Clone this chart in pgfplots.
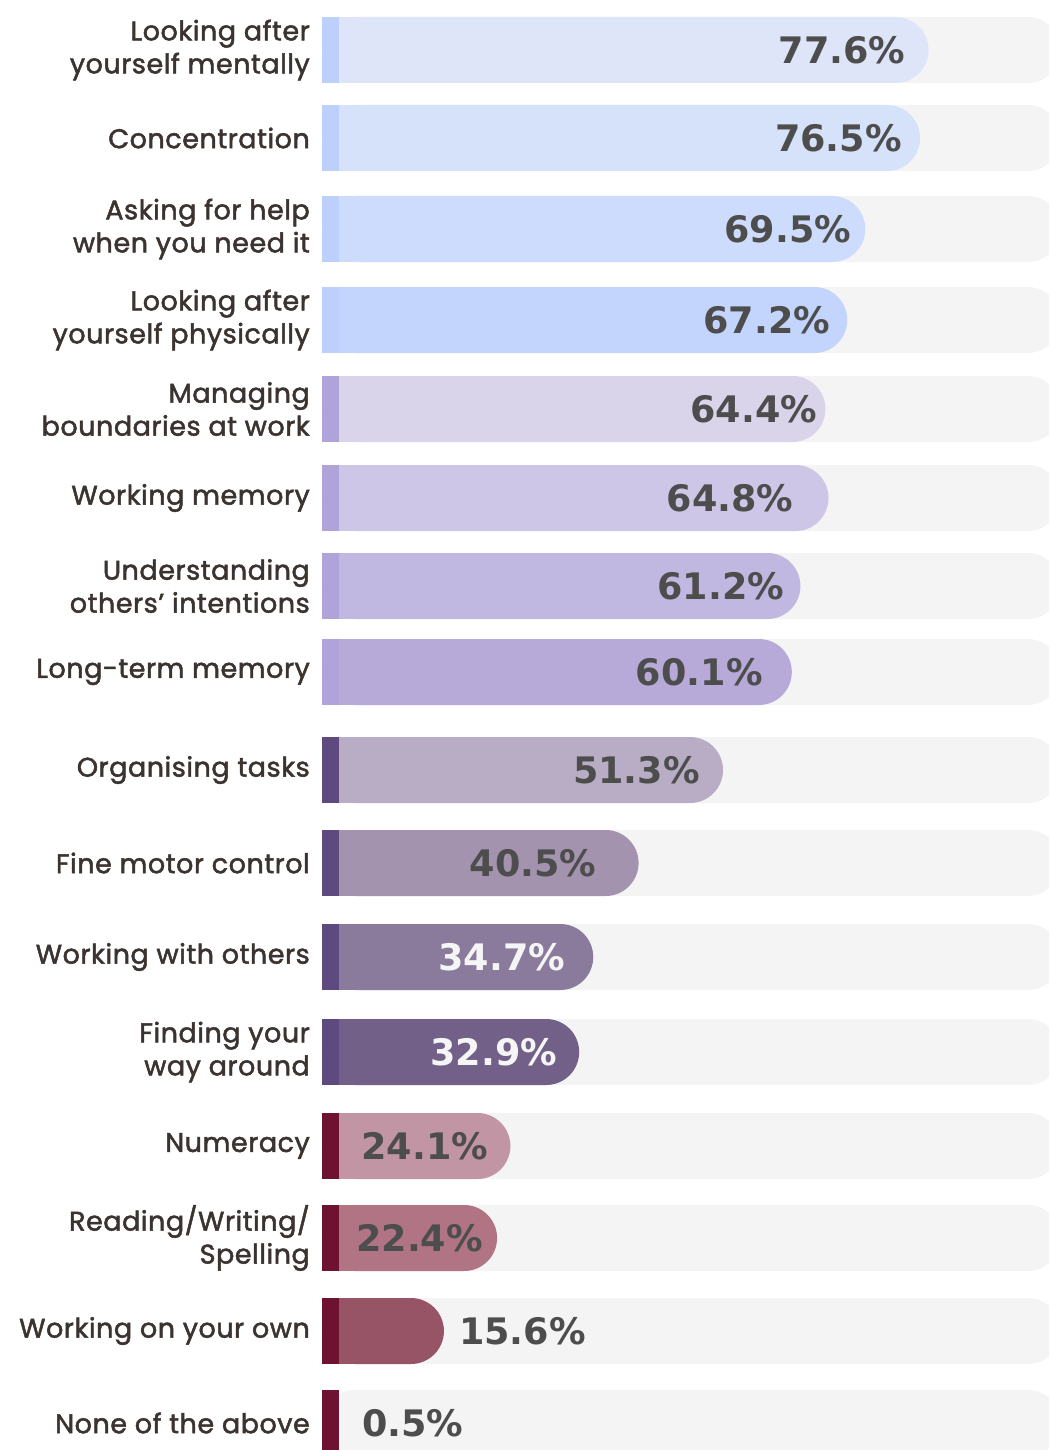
\documentclass[border=0pt]{standalone}
\usepackage{fontspec}
\usepackage{pgfplots}
\pgfplotsset{compat=1.18}
\newfontfamily\lab{Poppins}[FakeBold=1.8, LetterSpace=2]
\newfontfamily\val{DejaVu Sans}
\definecolor{trackc}{HTML}{F4F4F4}
\definecolor{labc}{HTML}{3B3330}
\definecolor{valc}{HTML}{4D4D4D}
\definecolor{valw}{HTML}{F5F5F5}
\definecolor{sA}{HTML}{BDD0FB}
\definecolor{sB}{HTML}{B0A3D9}
\definecolor{sC}{HTML}{5E4A7E}
\definecolor{sD}{HTML}{6E1232}
\definecolor{c1}{HTML}{DFE5F8}
\definecolor{c2}{HTML}{D6E2F9}
\definecolor{c3}{HTML}{CDDCFC}
\definecolor{c4}{HTML}{C3D5FD}
\definecolor{c5}{HTML}{DAD4EA}
\definecolor{c6}{HTML}{CEC6E6}
\definecolor{c7}{HTML}{C1B8E1}
\definecolor{c8}{HTML}{B7AAD9}
\definecolor{c9}{HTML}{B8ADC4}
\definecolor{c10}{HTML}{A393AE}
\definecolor{c11}{HTML}{8A7A9B}
\definecolor{c12}{HTML}{736089}
\definecolor{c13}{HTML}{C295A5}
\definecolor{c14}{HTML}{B07484}
\definecolor{c15}{HTML}{985467}
\definecolor{c16}{HTML}{9A4A62}
% #1 y, #2 value, #3 fill, #4 strip, #5 node style
\newcommand\barrow[5]{%
  \addplot[xbar, bar shift=0pt, bar width=66pt, draw=none, fill=trackc, rounded corners=33pt] coordinates {(94.5,#1)};
  \addplot[xbar, bar shift=0pt, bar width=66pt, draw=none, fill=#3, rounded corners=33pt,
     nodes near coords, point meta=explicit symbolic,
     every node near coord/.append style={#5}] coordinates {(#2,#1) [#2\%]};
  \addplot[xbar, bar shift=0pt, bar width=66pt, draw=none, fill=#3] coordinates {(5,#1)};
  \addplot[xbar, bar shift=0pt, bar width=66pt, draw=none, fill=#4] coordinates {(2.2,#1)};
}
\tikzset{
  inlab/.style={anchor=east, xshift=-#1pt, inner sep=0pt, font=\val\bfseries\fontsize{36.5}{42}\selectfont, text=valc},
  inlabw/.style={inlab=#1, text=valw},
  outlab/.style={anchor=west, xshift=#1pt, inner sep=0pt, font=\val\bfseries\fontsize{36.5}{42}\selectfont, text=valc},
}
\begin{document}
\begin{tikzpicture}
\begin{axis}[
  at={(0,0)}, anchor=south west,
  scale only axis, width=727pt, height=1450pt,
  xmin=0, xmax=93, ymin=0, ymax=1450, y dir=reverse,
  enlargelimits=false,
  axis line style={draw=none}, major tick length=0pt,
  xtick=\empty,
  ytick={50,138,229,320,409,498,586,672,770,863,957,1052,1146,1238,1331,1423},
  yticklabels={{Looking after\\yourself mentally},Concentration,{Asking for help\\when you need it},{Looking after\\yourself physically},{Managing\\boundaries at work},Working memory,{Understanding\\others’ intentions},Long-term memory,Organising tasks,Fine motor control,Working with others,{Finding your\\way around},Numeracy,{Reading/Writing/\\Spelling},Working on your own,None of the above},
  yticklabel style={font=\lab\fontsize{27}{33}\selectfont, text=labc, align=right, anchor=east, inner sep=0pt, xshift=-12pt},
]
\barrow{50}{77.6}{c1}{sA}{inlab=23}
\barrow{138}{76.5}{c2}{sA}{inlab=18}
\barrow{229}{69.5}{c3}{sA}{inlab=14}
\barrow{320}{67.2}{c4}{sA}{inlab=17}
\barrow{409}{64.4}{c5}{sB}{inlab=8}
\barrow{498}{64.8}{c6}{sB}{inlab=35}
\barrow{586}{61.2}{c7}{sB}{inlab=16}
\barrow{672}{60.1}{c8}{sB}{inlab=29}
\barrow{770}{51.3}{c9}{sC}{inlab=23}
\barrow{863}{40.5}{c10}{sC}{inlab=42}
\barrow{957}{34.7}{c11}{sC}{inlabw=28}
\barrow{1052}{32.9}{c12}{sC}{inlabw=22}
\barrow{1146}{24.1}{c13}{sD}{inlab=22}
\barrow{1238}{22.4}{c14}{sD}{inlab=14}
\barrow{1331}{15.6}{c15}{sD}{outlab=15}
% last row: bar too short for rounding
\addplot[xbar, bar shift=0pt, bar width=66pt, draw=none, fill=trackc, rounded corners=33pt] coordinates {(94.5,1423)};
\addplot[xbar, bar shift=0pt, bar width=66pt, draw=none, fill=c16,
   nodes near coords, point meta=explicit symbolic,
   every node near coord/.append style={outlab=36}] coordinates {(0.5,1423) [0.5\%]};
\addplot[xbar, bar shift=0pt, bar width=66pt, draw=none, fill=sD] coordinates {(2.2,1423)};
\end{axis}
\pgfresetboundingbox
\path (-322pt,0pt) rectangle (727pt,1450pt);
\end{tikzpicture}
\end{document}
